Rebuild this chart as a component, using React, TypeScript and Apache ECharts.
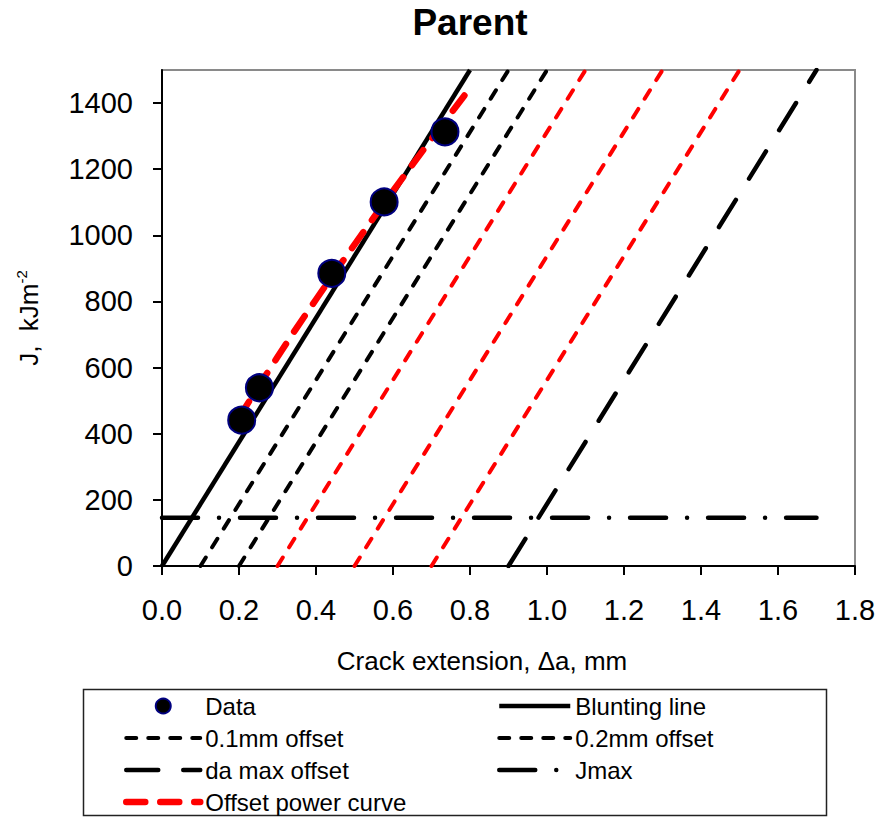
import React, { useEffect, useRef } from 'react';
import * as echarts from 'echarts';

// Measured data (crack extension in mm, J in kJ/m^2)
const dataDa = [0.207, 0.253, 0.441, 0.577, 0.735];
const dataJ = [441, 539, 885, 1101, 1313];

// Construction lines (end points in data units)
const lineJ = [0, 1500];
const bluntingDa = [0, 0.8];
const offset01Da = [0.1, 0.9];
const offset02Da = [0.2, 1.0];
const redOffset03Da = [0.3, 1.1];
const redOffset05Da = [0.5, 1.3];
const redOffset07Da = [0.7, 1.5];
const daMaxDa = [0.9, 1.7];
const jmaxDa = [0, 1.7];
const jmaxJ = [146, 146];

// Offset power curve
const powerDa = [0.2, 0.3, 0.4, 0.5, 0.6, 0.7, 0.8];
const powerJ = [449, 632, 806, 972, 1134, 1291, 1445];

const yTickValues = [0, 200, 400, 600, 800, 1000, 1200, 1400];
const xTickValues = [0, 0.2, 0.4, 0.6, 0.8, 1.0, 1.2, 1.4, 1.6, 1.8];

const FONT = "'Liberation Sans', Arial, sans-serif";

const pairs = (xs: number[], ys: number[]) => xs.map((x, i) => [x, ys[i]]);

export default function App() {
  const ref = useRef<HTMLDivElement>(null);
  useEffect(() => {
    document.body.style.margin = '0';
    if (!ref.current) return;
    const chart = echarts.init(ref.current, null, { renderer: 'svg' });
    const thinDash = { type: [10, 12] as any, cap: 'round' as any };
    const hideSym = { opacity: 0 };
    const legendCommon = {
      orient: 'vertical',
      top: 692,
      padding: 0,
      itemHeight: 15,
      itemGap: 4,
      selectedMode: false,
      lineStyle: { width: 'inherit' },
      textStyle: { fontFamily: FONT, fontSize: 24, lineHeight: 28, color: '#000' },
    };
    chart.setOption({
      animation: false,
      backgroundColor: '#fff',
      textStyle: { fontFamily: FONT },
      title: {
        text: 'Parent',
        left: 470,
        top: 4,
        textAlign: 'center',
        padding: 0,
        textStyle: { fontFamily: FONT, fontSize: 37, fontWeight: 'bold', color: '#000' },
      },
      grid: {
        left: 162,
        right: 24,
        top: 70,
        bottom: 252,
        show: true,
        borderColor: '#8a8a8a',
        borderWidth: 2,
        backgroundColor: 'transparent',
        outerBoundsMode: 'none',
      },
      xAxis: {
        type: 'value',
        min: 0,
        max: 1.8,
        interval: 0.2,
        name: 'Crack extension, \u0394a, mm',
        nameLocation: 'middle',
        nameGap: 82,
        nameTextStyle: { fontFamily: FONT, fontSize: 26, color: '#000', padding: [0, 53, 0, 0] },
        axisLine: { show: true, onZero: false, lineStyle: { color: '#000', width: 2 } },
        axisTick: { show: true, inside: false, length: 9, lineStyle: { color: '#000', width: 2 }, customValues: xTickValues },
        axisLabel: {
          fontFamily: FONT,
          fontSize: 29,
          color: '#000',
          margin: 29,
          customValues: xTickValues,
          formatter: (v: number) => v.toFixed(1),
        },
        splitLine: { show: false },
      },
      yAxis: {
        type: 'value',
        min: 0,
        max: 1500,
        interval: 100,
        name: 'J,  kJm{sup|-2}',
        nameLocation: 'middle',
        nameRotate: 90,
        nameGap: 118,
        nameTextStyle: {
          fontFamily: FONT,
          fontSize: 26,
          color: '#000',
          lineHeight: 30,
          rich: {
            sup: { fontFamily: FONT, fontSize: 15, color: '#000', verticalAlign: 'top', lineHeight: 30 },
          },
        },
        axisLine: { show: true, onZero: false, lineStyle: { color: '#000', width: 2 } },
        axisTick: { show: true, inside: false, length: 9, lineStyle: { color: '#000', width: 2 }, customValues: yTickValues },
        axisLabel: {
          fontFamily: FONT,
          fontSize: 29,
          color: '#000',
          margin: 29,
          customValues: yTickValues,
          formatter: (v: number) => String(v),
        },
        splitLine: { show: false },
      },
      legend: [
        {
          ...legendCommon,
          left: 123,
          itemWidth: 74,
          data: [
            { name: 'Data' },
            { name: '0.1mm offset', itemStyle: hideSym },
            { name: 'da max offset', itemStyle: hideSym },
            { name: 'Offset power curve', itemStyle: hideSym },
          ],
        },
        {
          ...legendCommon,
          left: 497,
          itemWidth: 71,
          data: [
            { name: 'Blunting line', itemStyle: hideSym },
            { name: '0.2mm offset', itemStyle: hideSym },
            { name: 'Jmax', itemStyle: hideSym },
          ],
        },
      ],
      graphic: [
        {
          type: 'rect',
          shape: { x: 83.5, y: 689.5, width: 743, height: 126 },
          style: { fill: 'none', stroke: '#222', lineWidth: 1.5 },
          silent: true,
        },
      ],
      series: [
        {
          name: 'Blunting line',
          type: 'line',
          symbol: 'none',
          data: pairs(bluntingDa, lineJ),
          lineStyle: { color: '#000', width: 4.5 },
          itemStyle: { color: '#000' },
        },
        {
          name: '0.1mm offset',
          type: 'line',
          symbol: 'none',
          data: pairs(offset01Da, lineJ),
          lineStyle: { color: '#000', width: 4, ...thinDash },
          itemStyle: { color: '#000' },
        },
        {
          name: '0.2mm offset',
          type: 'line',
          symbol: 'none',
          data: pairs(offset02Da, lineJ),
          lineStyle: { color: '#000', width: 4, ...thinDash },
          itemStyle: { color: '#000' },
        },
        {
          name: '0.3mm offset',
          type: 'line',
          symbol: 'none',
          data: pairs(redOffset03Da, lineJ),
          lineStyle: { color: '#ff0000', width: 4, ...thinDash },
          itemStyle: { color: '#ff0000' },
        },
        {
          name: '0.5mm offset',
          type: 'line',
          symbol: 'none',
          data: pairs(redOffset05Da, lineJ),
          lineStyle: { color: '#ff0000', width: 4, ...thinDash },
          itemStyle: { color: '#ff0000' },
        },
        {
          name: '0.7mm offset',
          type: 'line',
          symbol: 'none',
          data: pairs(redOffset07Da, lineJ),
          lineStyle: { color: '#ff0000', width: 4, ...thinDash },
          itemStyle: { color: '#ff0000' },
        },
        {
          name: 'da max offset',
          type: 'line',
          symbol: 'none',
          data: pairs(daMaxDa, lineJ),
          lineStyle: { color: '#000', width: 4.5, type: [32, 25], cap: 'round' },
          itemStyle: { color: '#000' },
        },
        {
          name: 'Jmax',
          type: 'line',
          symbol: 'none',
          data: pairs(jmaxDa, jmaxJ),
          lineStyle: { color: '#000', width: 4.5, type: [36, 21, 0.01, 21], cap: 'round' },
          itemStyle: { color: '#000' },
        },
        {
          name: 'Offset power curve',
          type: 'line',
          symbol: 'none',
          smooth: true,
          data: pairs(powerDa, powerJ),
          lineStyle: { color: '#ff0000', width: 6.5, type: [19, 15], cap: 'round' },
          itemStyle: { color: '#ff0000' },
          z: 3,
        },
        {
          name: 'Data',
          type: 'scatter',
          symbol: 'circle',
          symbolSize: 27,
          data: pairs(dataDa, dataJ),
          itemStyle: { color: '#000', borderColor: '#000080', borderWidth: 2, opacity: 1 },
          z: 5,
        },
      ],
    });
    return () => chart.dispose();
  }, []);
  return <div ref={ref} style={{ width: 879, height: 818 }} />;
}
